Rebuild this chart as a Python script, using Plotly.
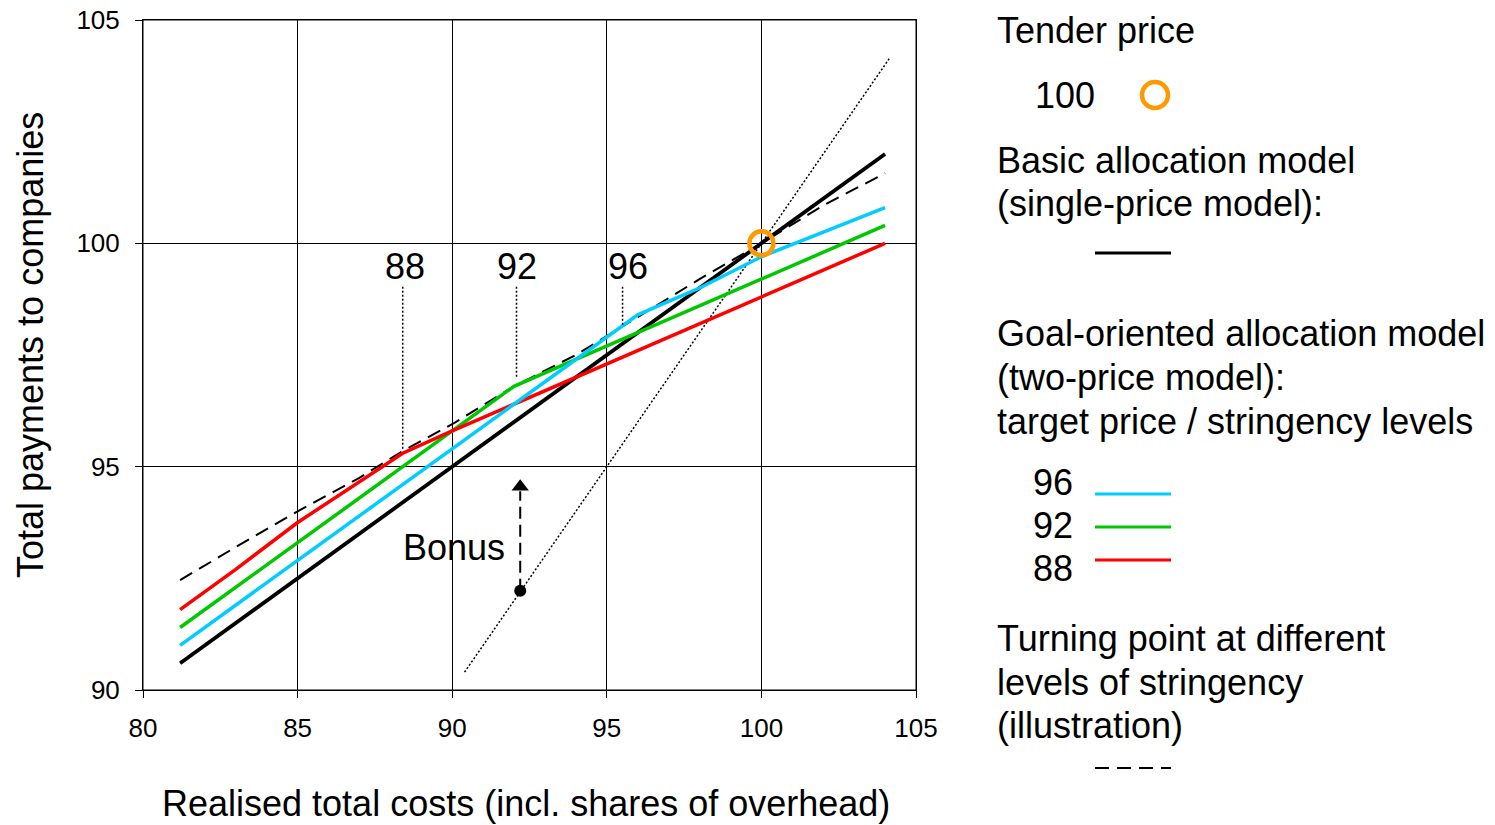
import plotly.graph_objects as go

# ---------------- data ----------------
cost_basic = [81.2, 90.0, 100.0, 104.0]
pay_basic = [90.6, 95.0, 100.0, 102.0]

cost_96 = [81.2, 83.0, 85.0, 87.0, 89.0, 91.0, 93.0, 95.0, 95.6, 96.0, 97.0, 98.0, 100.0, 102.0, 104.0]
pay_96 = [91.0, 91.9, 92.9, 93.9, 94.9, 95.9, 96.9, 97.9, 98.2, 98.4, 98.7, 99.0, 99.7, 100.25, 100.8]

cost_92 = [81.2, 85.0, 88.0, 90.0, 92.0, 94.0, 96.0, 98.0, 100.0, 102.0, 104.0]
pay_92 = [91.4, 93.3, 94.8, 95.8, 96.8, 97.4, 98.0, 98.6, 99.2, 99.8, 100.4]

cost_88 = [81.2, 83.0, 85.0, 87.0, 88.4, 90.0, 92.0, 94.0, 96.0, 98.0, 100.0, 102.0, 104.0]
pay_88 = [91.8, 92.7, 93.75, 94.65, 95.3, 95.8, 96.4, 97.0, 97.6, 98.2, 98.8, 99.4, 100.0]

cost_turn = [81.2, 83.0, 85.0, 87.0, 88.4, 90.0, 92.0, 94.0, 96.0, 98.0, 100.0, 102.0, 104.0]
pay_turn = [92.46, 93.2, 94.0, 94.75, 95.35, 95.95, 96.8, 97.5, 98.35, 99.2, 100.0, 100.85, 101.57]

cost_diag = [90.4, 104.15]
pay_diag = [90.4, 104.15]

tender_cost = [100.0]
tender_pay = [100.0]

bonus_cost = [92.2, 92.2]
bonus_pay = [92.22, 94.45]

level_labels = ["88", "92", "96"]
level_label_x = [88.47, 92.1, 95.69]
level_label_y = [99.49, 99.49, 99.49]
level_line_x = [88.4, 92.08, 95.51]
level_line_top = [99.03, 99.03, 99.03]
level_line_bottom = [95.37, 96.98, 98.13]

x_ticks = [80, 85, 90, 95, 100, 105]
y_ticks = [90, 95, 100, 105]

x_title = "Realised total costs (incl. shares of overhead)"
y_title = "Total payments to companies"

# ---------------- layout helpers ----------------
W, H = 1495, 825
L, R, T, B = 143, 916, 20, 690   # plot area in screen pixels
OFF = 0                           # page body margin (removed via post_script)
FONT = "Liberation Sans, Arial, sans-serif"
BIG = 36

def px(xp):
    return (xp - L) / (R - L)

def py(yp):
    return (B - yp) / (B - T)

BLUE = "#00CCFF"
GREEN = "#00C800"
RED = "#FF0000"
ORANGE = "#FF9900"

fig = go.Figure()

fig.add_trace(go.Scatter(x=cost_diag, y=pay_diag, mode="lines",
                         line=dict(color="black", width=1.5, dash="2px,2px")))
fig.add_trace(go.Scatter(x=cost_turn, y=pay_turn, mode="lines",
                         line=dict(color="black", width=2, dash="14px,8px")))
fig.add_trace(go.Scatter(x=cost_basic, y=pay_basic, mode="lines",
                         line=dict(color="black", width=3.8)))
fig.add_trace(go.Scatter(x=cost_92, y=pay_92, mode="lines",
                         line=dict(color=GREEN, width=3.5)))
fig.add_trace(go.Scatter(x=cost_88, y=pay_88, mode="lines",
                         line=dict(color=RED, width=3.5)))
fig.add_trace(go.Scatter(x=cost_96, y=pay_96, mode="lines",
                         line=dict(color=BLUE, width=3.5)))

# level marker lines
for lx, lt, lb in zip(level_line_x, level_line_top, level_line_bottom):
    fig.add_trace(go.Scatter(x=[lx, lx], y=[lt, lb], mode="lines",
                             line=dict(color="black", width=1.5, dash="2px,2px")))

# bonus arrow
fig.add_trace(go.Scatter(x=bonus_cost, y=bonus_pay, mode="lines",
                         line=dict(color="black", width=2, dash="12px,6px")))
fig.add_trace(go.Scatter(x=[bonus_cost[1]], y=[bonus_pay[1] + 0.1], mode="markers",
                         marker=dict(symbol="triangle-up", size=15, color="black")))
fig.add_trace(go.Scatter(x=[bonus_cost[0]], y=[bonus_pay[0]], mode="markers",
                         marker=dict(symbol="circle", size=12, color="black")))

# tender price marker
fig.add_trace(go.Scatter(x=tender_cost, y=tender_pay, mode="markers",
                         marker=dict(symbol="circle-open", size=24, color=ORANGE,
                                     line=dict(width=4.5, color=ORANGE))))

annotations = []
for t, lx, ly in zip(level_labels, level_label_x, level_label_y):
    annotations.append(dict(x=lx, y=ly, xref="x", yref="y", text=t, showarrow=False,
                            xanchor="center", yanchor="middle",
                            font=dict(size=BIG, color="black", family=FONT)))
annotations.append(dict(x=90.06, y=93.18, xref="x", yref="y", text="Bonus", showarrow=False,
                        xanchor="center", yanchor="middle",
                        font=dict(size=BIG, color="black", family=FONT)))

# axis titles
annotations.append(dict(x=px(526), y=py(803), xref="paper", yref="paper", text=x_title,
                        xanchor="center", yanchor="middle",
                        showarrow=False, font=dict(size=BIG, color="black", family=FONT)))
annotations.append(dict(x=px(31), y=py(345), xref="paper", yref="paper", text=y_title,
                        textangle=-90, showarrow=False, xanchor="center", yanchor="middle",
                        font=dict(size=BIG, color="black", family=FONT)))

legend_texts = [
    ("Tender price", 995, 30),
    ("100", 1033, 96),
    ("Basic allocation model", 995, 160),
    ("(single-price model):", 995, 204),
    ("Goal-oriented allocation model", 995, 334),
    ("(two-price model):", 995, 377),
    ("target price / stringency levels", 995, 421),
    ("96", 1031, 482),
    ("92", 1031, 525),
    ("88", 1031, 568),
    ("Turning point at different", 995, 638),
    ("levels of stringency", 995, 682),
    ("(illustration)", 995, 725),
]
for t, xp, yp in legend_texts:
    annotations.append(dict(x=px(xp), y=py(yp), xref="paper", yref="paper", text=t,
                            xanchor="left", yanchor="middle", showarrow=False,
                            font=dict(size=BIG, color="black", family=FONT)))

shapes = [dict(type="rect", xref="paper", yref="paper", x0=0, x1=1, y0=0, y1=1,
               line=dict(color="black", width=1), layer="above")]
legend_lines = [
    (253, "black", 3, "solid"),
    (494, BLUE, 3, "solid"),
    (527, GREEN, 3, "solid"),
    (560, RED, 3, "solid"),
    (768, "black", 2, "14px,8px"),
]
for yp, col, wd, ds in legend_lines:
    shapes.append(dict(type="line", xref="paper", yref="paper",
                       x0=px(1095), x1=px(1171), y0=py(yp), y1=py(yp),
                       line=dict(color=col, width=wd, dash=ds)))
shapes.append(dict(type="circle", xref="paper", yref="paper",
                   x0=px(1142), x1=px(1168), y0=py(82), y1=py(108),
                   line=dict(color=ORANGE, width=4.5)))

fig.update_layout(
    width=W, height=H,
    margin=dict(l=L - OFF, r=W - R + OFF, t=T - OFF, b=H - B + OFF, autoexpand=False),
    paper_bgcolor="white", plot_bgcolor="white",
    showlegend=False,
    font=dict(family=FONT, color="black"),
    annotations=annotations,
    shapes=shapes,
)
fig.update_xaxes(range=[80, 105], tickvals=x_ticks, showgrid=True, gridcolor="black", gridwidth=1,
                 showline=True, mirror=True, linecolor="black", linewidth=1,
                 ticks="outside", ticklen=7, tickcolor="black", zeroline=False,
                 ticklabeloverflow="allow",
                 tickfont=dict(size=26, color="black", family=FONT), ticklabelstandoff=8)
fig.update_yaxes(range=[90, 105], tickvals=y_ticks, showgrid=True, gridcolor="black", gridwidth=1,
                 showline=True, mirror=True, linecolor="black", linewidth=1,
                 ticks="outside", ticklen=7, tickcolor="black", zeroline=False,
                 ticklabeloverflow="allow",
                 tickfont=dict(size=26, color="black", family=FONT), ticklabelstandoff=10)

fig.write_html("out.html", config={"displayModeBar": False},
               post_script="document.body.style.margin='0';")
